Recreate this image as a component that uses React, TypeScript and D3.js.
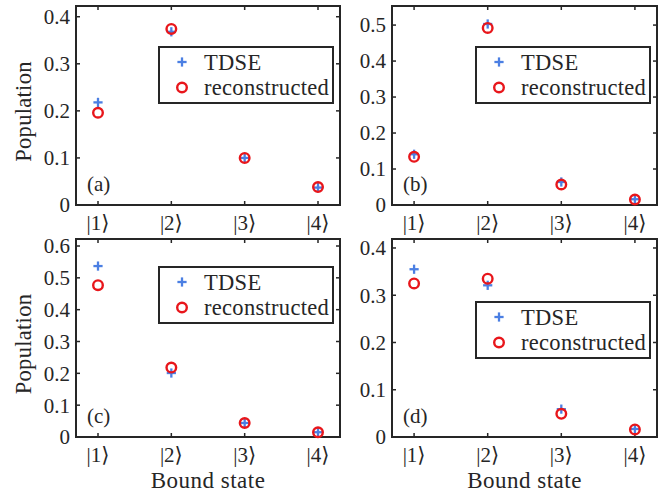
import React from "react";
import * as d3 from "d3";

const states = ["|1⟩", "|2⟩", "|3⟩", "|4⟩"];
const panelLabels = ["(a)", "(b)", "(c)", "(d)"];
const tdseA = [0.218, 0.368, 0.1, 0.037];
const reconA = [0.196, 0.374, 0.1, 0.038];
const tdseB = [0.141, 0.503, 0.064, 0.016];
const reconB = [0.134, 0.492, 0.057, 0.015];
const tdseC = [0.537, 0.201, 0.044, 0.015];
const reconC = [0.477, 0.218, 0.044, 0.015];
const tdseD = [0.355, 0.321, 0.059, 0.017];
const reconD = [0.325, 0.335, 0.049, 0.016];
const yMaxes = [0.4228, 0.553, 0.622, 0.419];
const yTickTops = [0.4, 0.5, 0.6, 0.4];
const legendNames = ["TDSE", "reconstructed"];

const tdseAll = [tdseA, tdseB, tdseC, tdseD];
const reconAll = [reconA, reconB, reconC, reconD];

// layout
const panels = [
  { x0: 76, x1: 340, y0: 6, y1: 205, legTop: 47, yLabel: true, xLabel: false },
  { x0: 392, x1: 657, y0: 6, y1: 205, legTop: 47, yLabel: false, xLabel: false },
  { x0: 76, x1: 340, y0: 239, y1: 437, legTop: 267, yLabel: true, xLabel: true },
  { x0: 392, x1: 657, y0: 239, y1: 437, legTop: 302, yLabel: false, xLabel: true },
];

const AX = "#262626";
const BLUE = "#4b7fe3";
const RED = "#e8161b";
const FONT = "Liberation Serif, DejaVu Serif, serif";

function Plus({ x, y }: { x: number; y: number }) {
  const h = 4.6;
  return (
    <g stroke={BLUE} strokeWidth={2.3}>
      <line x1={x - h} x2={x + h} y1={y} y2={y} />
      <line x1={x} x2={x} y1={y - h} y2={y + h} />
    </g>
  );
}
function Circ({ x, y }: { x: number; y: number }) {
  return <circle cx={x} cy={y} r={4.8} fill="none" stroke={RED} strokeWidth={2.4} />;
}

const txt = { fontFamily: FONT, fill: AX } as React.CSSProperties;

function Panel({ i }: { i: number }) {
  const p = panels[i];
  const x = d3.scaleLinear().domain([0.7, 4.3]).range([p.x0, p.x1]);
  const y = d3.scaleLinear().domain([0, yMaxes[i]]).range([p.y1, p.y0]);
  const yt = d3.range(0, yTickTops[i] + 1e-9, 0.1);
  const xs = [1, 2, 3, 4];
  const tl = 4;
  const lx1 = p.x1 - 7;
  const lx0 = lx1 - 174;
  const lt = p.legTop;
  return (
    <g>
      {yt.map((v) => (
        <g key={"y" + v}>
          <line x1={p.x0} x2={p.x0 + tl} y1={y(v)} y2={y(v)} stroke={AX} strokeWidth={1.5} />
          <line x1={p.x1} x2={p.x1 - tl} y1={y(v)} y2={y(v)} stroke={AX} strokeWidth={1.5} />
          <text style={txt} x={p.x0 - 6} y={y(v)} dy="0.35em" textAnchor="end" fontSize={21}>
            {v === 0 ? "0" : d3.format(".1f")(v)}
          </text>
        </g>
      ))}
      {xs.map((v, k) => (
        <g key={"x" + v}>
          <line x1={x(v)} x2={x(v)} y1={p.y1} y2={p.y1 - tl} stroke={AX} strokeWidth={1.5} />
          <line x1={x(v)} x2={x(v)} y1={p.y0} y2={p.y0 + tl} stroke={AX} strokeWidth={1.5} />
          <text style={txt} x={x(v)} y={p.y1 + 25} textAnchor="middle" fontSize={21}>
            {states[k]}
          </text>
        </g>
      ))}
      <rect x={p.x0} y={p.y0} width={p.x1 - p.x0} height={p.y1 - p.y0} fill="none" stroke={AX} strokeWidth={2} />
      {tdseAll[i].map((v, k) => (
        <Plus key={"t" + k} x={x(xs[k])} y={y(v)} />
      ))}
      {reconAll[i].map((v, k) => (
        <Circ key={"r" + k} x={x(xs[k])} y={y(v)} />
      ))}
      <text style={txt} x={p.x0 + 11} y={p.y1 - 14} fontSize={21}>
        {panelLabels[i]}
      </text>
      <rect x={lx0} y={lt} width={lx1 - lx0} height={56} fill="#fff" stroke={AX} strokeWidth={2} />
      <Plus x={lx0 + 23} y={lt + 15} />
      <Circ x={lx0 + 23} y={lt + 40.5} />
      <text style={txt} x={lx0 + 45} y={lt + 15} dy="0.35em" fontSize={22.5} letterSpacing={0.3}>
        {legendNames[0]}
      </text>
      <text style={txt} x={lx0 + 45} y={lt + 40.5} dy="0.35em" fontSize={22.5} letterSpacing={0.3}>
        {legendNames[1]}
      </text>
      {p.yLabel && (
        <text
          style={txt}
          transform={`translate(31, ${(p.y0 + p.y1) / 2 + 6}) rotate(-90)`}
          textAnchor="middle"
          fontSize={22.5}
          letterSpacing={0.3}
        >
          Population
        </text>
      )}
      {p.xLabel && (
        <text style={txt} x={(p.x0 + p.x1) / 2} y={488} textAnchor="middle" fontSize={23} letterSpacing={0.5}>
          Bound state
        </text>
      )}
    </g>
  );
}

export default function App() {
  return (
    <svg width={669} height={493} style={{ position: "absolute", left: 0, top: 0, background: "#fff" }}>
      <rect width={669} height={493} fill="#fff" />
      {[0, 1, 2, 3].map((i) => (
        <Panel key={i} i={i} />
      ))}
    </svg>
  );
}
